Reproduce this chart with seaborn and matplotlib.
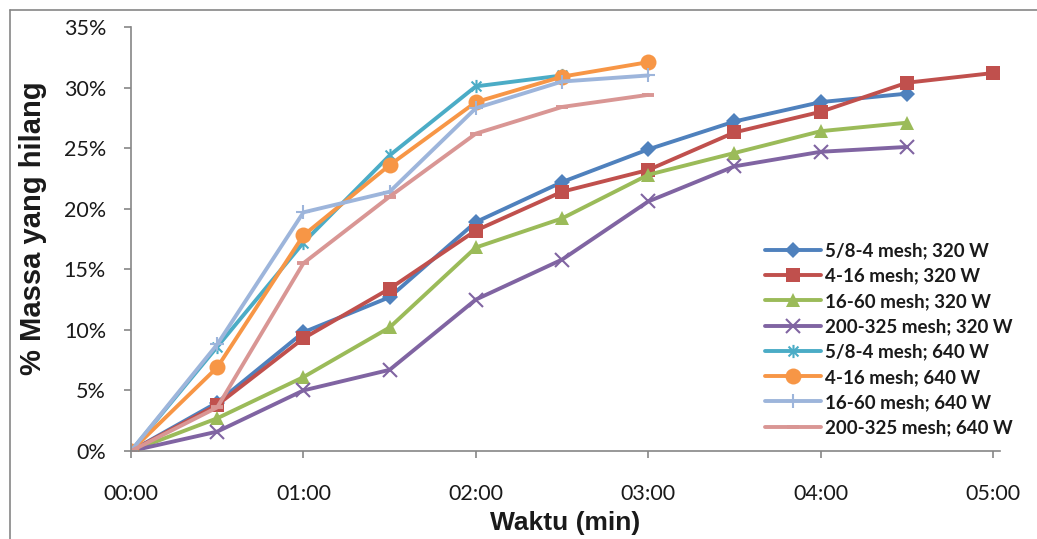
import matplotlib
matplotlib.use("Agg")
import matplotlib.pyplot as plt
from matplotlib.path import Path
from matplotlib.lines import Line2D
from matplotlib.ticker import FixedLocator, FixedFormatter
import seaborn as sns
import pandas as pd

# Time points (minutes)
time_320 = [0, 0.5, 1.0, 1.5, 2.0, 2.5, 3.0, 3.5, 4.0, 4.5]
time_320_long = [0, 0.5, 1.0, 1.5, 2.0, 2.5, 3.0, 3.5, 4.0, 4.5, 5.0]
time_640_short = [0, 0.5, 1.0, 1.5, 2.0, 2.5]
time_640 = [0, 0.5, 1.0, 1.5, 2.0, 2.5, 3.0]

# Mass loss (%)
mesh_58_4_320 = [0, 4.0, 9.8, 12.7, 18.9, 22.2, 24.9, 27.2, 28.8, 29.5]
mesh_4_16_320 = [0, 3.8, 9.3, 13.4, 18.2, 21.4, 23.2, 26.3, 28.0, 30.4, 31.2]
mesh_16_60_320 = [0, 2.7, 6.1, 10.2, 16.8, 19.2, 22.8, 24.6, 26.4, 27.1]
mesh_200_325_320 = [0, 1.6, 5.0, 6.7, 12.5, 15.8, 20.6, 23.5, 24.7, 25.1]
mesh_58_4_640 = [0, 8.6, 17.2, 24.4, 30.1, 31.0]
mesh_4_16_640 = [0, 6.9, 17.8, 23.6, 28.8, 30.9, 32.1]
mesh_16_60_640 = [0, 8.8, 19.7, 21.4, 28.3, 30.5, 31.0]
mesh_200_325_640 = [0, 3.6, 15.5, 21.0, 26.2, 28.4, 29.4]

series_names = [
    "5/8-4 mesh; 320 W",
    "4-16 mesh; 320 W",
    "16-60 mesh; 320 W",
    "200-325 mesh; 320 W",
    "5/8-4 mesh; 640 W",
    "4-16 mesh; 640 W",
    "16-60 mesh; 640 W",
    "200-325 mesh; 640 W",
]

x_ticks = [0, 1, 2, 3, 4, 5]
x_tick_labels = ["00:00", "01:00", "02:00", "03:00", "04:00", "05:00"]
y_ticks = [0, 5, 10, 15, 20, 25, 30, 35]
y_tick_labels = ["0%", "5%", "10%", "15%", "20%", "25%", "30%", "35%"]

series = [
    (time_320, mesh_58_4_320),
    (time_320_long, mesh_4_16_320),
    (time_320, mesh_16_60_320),
    (time_320, mesh_200_325_320),
    (time_640_short, mesh_58_4_640),
    (time_640, mesh_4_16_640),
    (time_640, mesh_16_60_640),
    (time_640, mesh_200_325_640),
]

frames = []
for name, (t, v) in zip(series_names, series):
    frames.append(pd.DataFrame({"Waktu": t, "Massa": v, "Seri": name}))
df = pd.concat(frames, ignore_index=True)

# Star marker: vertical bar crossed by an X
star = Path(
    [(0, -1), (0, 1), (-0.75, -0.75), (0.75, 0.75), (-0.75, 0.75), (0.75, -0.75)],
    [Path.MOVETO, Path.LINETO, Path.MOVETO, Path.LINETO, Path.MOVETO, Path.LINETO],
)

styles = {
    "5/8-4 mesh; 320 W": dict(color="#4F81BD", marker="D", ms=8, mew=0),
    "4-16 mesh; 320 W": dict(color="#C0504D", marker="s", ms=10, mew=0),
    "16-60 mesh; 320 W": dict(color="#9BBB59", marker="^", ms=10.5, mew=0),
    "200-325 mesh; 320 W": dict(color="#8064A2", marker="x", ms=9.5, mew=1.5),
    "5/8-4 mesh; 640 W": dict(color="#4BACC6", marker=star, ms=9.5, mew=1.5),
    "4-16 mesh; 640 W": dict(color="#F79646", marker="o", ms=11.5, mew=0),
    "16-60 mesh; 640 W": dict(color="#9DB5DB", marker="+", ms=10.5, mew=1.5),
    "200-325 mesh; 640 W": dict(color="#D99694", marker="_", ms=9, mew=2.8),
}

sns.set_style("white")
plt.rcParams["font.family"] = ["Lato", "DejaVu Sans"]

fig = plt.figure(figsize=(10.37, 5.39), dpi=100)
ax = fig.add_axes([131 / 1037, 1 - 451 / 539, (1000 - 131) / 1037, (451 - 27) / 539])

for name in series_names:
    st = styles[name]
    sub = df[df["Seri"] == name]
    sns.lineplot(
        data=sub, x="Waktu", y="Massa", ax=ax, label=name,
        color=st["color"], linewidth=2.8,
        marker=st["marker"], markersize=st["ms"],
        markeredgewidth=st["mew"], markeredgecolor=st["color"],
        markerfacecolor=st["color"],
        estimator=None, sort=False,
    )

ax.set_xlim(0, 5.04)
ax.set_ylim(0, 35)

ax.xaxis.set_major_locator(FixedLocator(x_ticks))
ax.xaxis.set_major_formatter(FixedFormatter(x_tick_labels))
ax.yaxis.set_major_locator(FixedLocator(y_ticks))
ax.yaxis.set_major_formatter(FixedFormatter(y_tick_labels))

axis_grey = "#868686"
for side in ["top", "right"]:
    ax.spines[side].set_visible(False)
for side in ["left", "bottom"]:
    ax.spines[side].set_color(axis_grey)
    ax.spines[side].set_linewidth(1.2)

ax.tick_params(axis="x", direction="out", length=5, width=1.2, color=axis_grey,
               pad=19, labelsize=15.5, labelcolor="#1a1a1a", bottom=True)
ax.tick_params(axis="y", direction="out", length=5, width=1.2, color=axis_grey,
               pad=13, labelsize=15.5, labelcolor="#1a1a1a", left=True)

label_font = ["Liberation Sans", "DejaVu Sans"]
ax.set_xlabel("Waktu (min)", fontsize=19, fontweight="bold", color="#1a1a1a",
              family=label_font)
ax.set_ylabel("% Massa yang hilang", fontsize=21, fontweight="bold", color="#1a1a1a",
              family=label_font)
ax.xaxis.set_label_coords(0.4994, -0.1415)
ax.xaxis.label.set_va("top")
ax.yaxis.set_label_coords(-0.097, 0.525)

leg = ax.legend(
    loc="upper left", bbox_to_anchor=((757 - 131) / 869, (451 - 235) / 424),
    frameon=False, handlelength=3.0, handletextpad=0.25, labelspacing=0.44,
    borderaxespad=0, prop={"family": ["Lato", "DejaVu Sans"], "weight": "bold", "size": 13.5},
)
for txt in leg.get_texts():
    txt.set_color("#1a1a1a")

# Chart-area border on the left and top edges
fig.add_artist(Line2D([10 / 1037, 10 / 1037], [0, 1 - 10 / 539], color=axis_grey, lw=1.2,
                      transform=fig.transFigure))
fig.add_artist(Line2D([10 / 1037, 1], [1 - 10 / 539, 1 - 10 / 539], color=axis_grey, lw=1.2,
                      transform=fig.transFigure))

fig.savefig("out.png", dpi=100, facecolor="white")
